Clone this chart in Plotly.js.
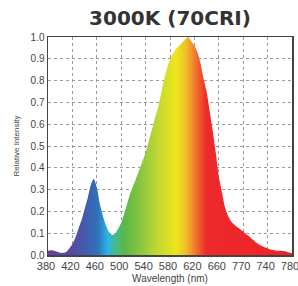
<!DOCTYPE html>
<html>
<head>
<meta charset="utf-8">
<script src="https://cdn.plot.ly/plotly-3.0.1.min.js"></script>
<style>html,body{margin:0;padding:0;background:#fff;}#chart{width:298px;height:286px;}</style>
</head>
<body>
<div id="chart"></div>
<script>
var wavelengths = [380,385,390,395,400,405,410,415,420,425,430,435,440,445,450,455,460,465,470,475,480,485,490,495,500,505,510,515,520,525,530,535,540,545,550,555,560,565,570,575,580,585,590,595,600,605,610,615,620,625,630,635,640,645,650,655,660,665,670,675,680,685,690,695,700,705,710,715,720,725,730,735,740,745,750,755,760,765,770,775,780];
var intensity = [0.020,0.022,0.020,0.015,0.010,0.010,0.014,0.030,0.050,0.080,0.120,0.160,0.210,0.260,0.320,0.350,0.310,0.235,0.180,0.135,0.105,0.092,0.098,0.120,0.148,0.190,0.237,0.283,0.320,0.355,0.393,0.430,0.470,0.520,0.570,0.625,0.672,0.735,0.800,0.855,0.895,0.925,0.945,0.960,0.975,0.990,1.000,0.980,0.960,0.930,0.880,0.810,0.750,0.660,0.570,0.470,0.360,0.290,0.220,0.180,0.155,0.140,0.128,0.118,0.107,0.095,0.085,0.072,0.060,0.050,0.042,0.035,0.030,0.025,0.022,0.020,0.019,0.018,0.016,0.012,0.008];
var tickValues = [380,420,460,500,540,580,620,660,700,740,780];
var tickLabels = ["380","420","460","500","540","580","620","660","770","740","780"];
var yTickValues = [0,0.1,0.2,0.3,0.4,0.5,0.6,0.7,0.8,0.9,1.0];

var spectrumScale = [
  [0.000,'#6b3d9a'],
  [0.100,'#5a4aa0'],
  [0.1625,'#3f5fb0'],
  [0.205,'#2f72ba'],
  [0.245,'#2ab6e6'],
  [0.275,'#46b98a'],
  [0.315,'#5bb848'],
  [0.3675,'#80c342'],
  [0.450,'#c2d833'],
  [0.525,'#efe51c'],
  [0.5625,'#f0c228'],
  [0.585,'#f29a2e'],
  [0.620,'#ef5a2c'],
  [0.650,'#ee2a2b'],
  [1.000,'#ee2127']
];

var trace = {
  type: 'scatter',
  mode: 'lines',
  x: wavelengths,
  y: intensity,
  line: {width: 0, shape: 'spline', smoothing: 0.6, color: 'rgba(0,0,0,0)'},
  fill: 'tozeroy',
  fillgradient: {type: 'horizontal', colorscale: spectrumScale, start: 380, stop: 780},
  hoverinfo: 'skip'
};

var layout = {
  width: 298,
  height: 286,
  margin: {l: 48, r: 6, t: 36.5, b: 31, pad: 0},
  paper_bgcolor: '#fff',
  plot_bgcolor: '#fff',
  showlegend: false,
  title: {
    text: '3000K (70CRI)',
    font: {family: 'DejaVu Sans', size: 20, color: '#333', weight: 'bold'},
    x: 0.5, xanchor: 'center', xref: 'paper',
    y: 1 - 18/286, yanchor: 'middle'
  },
  xaxis: {
    range: [380, 780],
    tickmode: 'array',
    tickvals: tickValues,
    ticktext: tickLabels,
    tickfont: {family: 'Liberation Sans', size: 11, color: '#444'},
    ticklabeloverflow: 'allow',
    ticklabelshift: -2,
    ticks: '',
    showgrid: true,
    gridcolor: '#9a9a9a',
    griddash: 'dot',
    gridwidth: 1,
    showline: true,
    mirror: true,
    linecolor: '#444',
    linewidth: 1.5,
    zeroline: false,
    title: {text: 'Wavelength (nm)', font: {family: 'Liberation Sans', size: 10, color: '#444'}, standoff: 4},
    fixedrange: true
  },
  yaxis: {
    range: [0, 1],
    tickmode: 'array',
    tickvals: yTickValues,
    tickformat: '.1f',
    tickfont: {family: 'Liberation Sans', size: 10, color: '#444'},
    ticks: '',
    showgrid: true,
    gridcolor: '#9a9a9a',
    griddash: 'dot',
    gridwidth: 1,
    showline: true,
    mirror: true,
    linecolor: '#444',
    linewidth: 1.5,
    zeroline: false,
    title: {text: 'Relative Intensity', font: {family: 'Liberation Sans', size: 8, color: '#444'}, standoff: 10},
    fixedrange: true
  }
};

Plotly.newPlot('chart', [trace], layout, {staticPlot: true, displayModeBar: false});
</script>
</body>
</html>
